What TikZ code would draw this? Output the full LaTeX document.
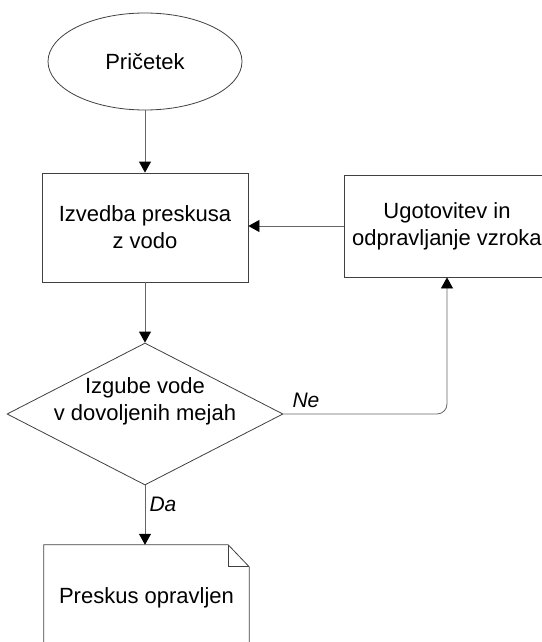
\documentclass[tikz,border=0pt]{standalone}
\usepackage{fontspec}
\setmainfont{Liberation Sans}
\usetikzlibrary{arrows.meta,shapes.geometric,calc}

\begin{document}
\begin{tikzpicture}[x=1pt, y=-1pt,
    every node/.style={font=\fontsize{22}{27}\selectfont, align=center},
    startnode/.style={ellipse, draw=black!75, thick, minimum width=194pt, minimum height=97pt},
    stepbox/.style={rectangle, draw=black!75, thick, minimum width=206pt, minimum height=109pt},
    decision/.style={diamond, draw=black!75, thick, aspect=1.95, inner sep=0pt,
      minimum width=276pt, minimum height=142pt},
    docnode/.style={rectangle, minimum width=205pt, minimum height=106pt},
    flow/.style={-{Triangle[length=11pt, width=12pt, black]}, thick, black!60},
    answer/.style={font=\fontsize{21}{25}\selectfont\itshape}
  ]
    \useasboundingbox (0,0) rectangle (541,642);

    % Main column
    \node[startnode] (start) at (145,61.5) {Pričetek};
    \node[stepbox]   (test)  at (145,227.5) {Izvedba preskusa\\z vodo};
    \node[decision, label={[yshift=13pt, font=\fontsize{22}{27}\selectfont, align=center]center:Izgube vode\\v dovoljenih mejah}]
                     (check) at (145,414) {};
    \node[docnode]   (done)  at (146.5,598) {Preskus opravljen};

    % Side box for the repair loop (runs off the right edge)
    \node[stepbox, minimum width=206pt, minimum height=102pt] (fix) at (447,226) {Ugotovitev in\\odpravljanje vzroka};

    % Document outline with folded corner
    \draw[black!75, thick] (done.south west) -- (done.north west)
      -- ($(done.north east)+(-21,0)$) -- ($(done.north east)+(0,22)$) -- (done.south east);
    \draw[black!75, thick] ($(done.north east)+(-21,0)$) |- ($(done.north east)+(0,22)$);

    % Connectors
    \draw[flow] (start) -- (test);
    \draw[flow] (test) -- (check);
    \draw[flow] (fix.west) -- (fix.west -| test.east);
    \draw[flow, rounded corners=10pt] (check.east) -| (fix.south);
    \draw[flow] (check.south) -- (check.south |- done.north);

    % Answer labels
    \node[answer, anchor=west] (no)  at (289,400) {Ne};
    \node[answer, anchor=west] (yes) at (146,504) {Da};
  \end{tikzpicture}
\end{document}
